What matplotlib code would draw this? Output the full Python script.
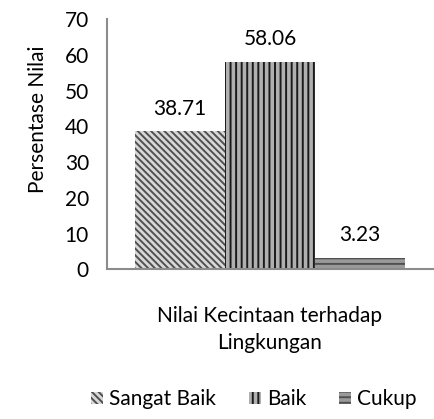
import matplotlib.pyplot as plt

categories = ['Sangat Baik', 'Baik', 'Cukup']
values = [38.71, 58.06, 3.23]
group_label = 'Nilai Kecintaan terhadap\nLingkungan'

plt.rcParams['font.family'] = ['Lato', 'DejaVu Sans']
plt.rcParams['hatch.linewidth'] = 1.4

fig = plt.figure(figsize=(4.34, 4.19), dpi=100)
ax = fig.add_axes([0.2465, 0.357, 0.751, 0.597])

styles = [
    dict(facecolor='#d8d8d8', edgecolor='#505050', hatch='\\\\\\\\\\'),
    dict(facecolor='#b0b0b0', edgecolor='#1a1a1a', hatch='|||'),
    dict(facecolor='#9a9a9a', edgecolor='#505050', hatch='---'),
]

width = 0.276
for i, (cat, val) in enumerate(zip(categories, values)):
    ax.bar((i - 1) * width, val, width, label=cat, linewidth=0, **styles[i])
    ax.annotate(f'{val:.2f}', xy=((i - 1) * width, val), xytext=(0, 9),
                textcoords='offset points', ha='center', va='bottom', fontsize=15)

ax.set_xlim(-0.5, 0.5)
ax.set_ylim(0, 70)
ax.set_yticks(range(0, 71, 10))
ax.set_xticks([])
ax.tick_params(axis='y', length=0, labelsize=15, pad=13)
ax.set_ylabel('Persentase Nilai', fontsize=15)
ax.yaxis.set_label_coords(-0.18, 0.6)
ax.set_xlabel(group_label, fontsize=15, labelpad=26, linespacing=1.45)

for s in ['top', 'right']:
    ax.spines[s].set_visible(False)
for s in ['left', 'bottom']:
    ax.spines[s].set_color('#8c8c8c')
    ax.spines[s].set_linewidth(1.5)

fig.legend(loc='lower center', bbox_to_anchor=(0.585, -0.022), ncol=3, frameon=False,
           fontsize=15, handlelength=0.55, handleheight=0.55, handletextpad=0.3,
           columnspacing=1.6)

fig.savefig('out.png', dpi=100)
